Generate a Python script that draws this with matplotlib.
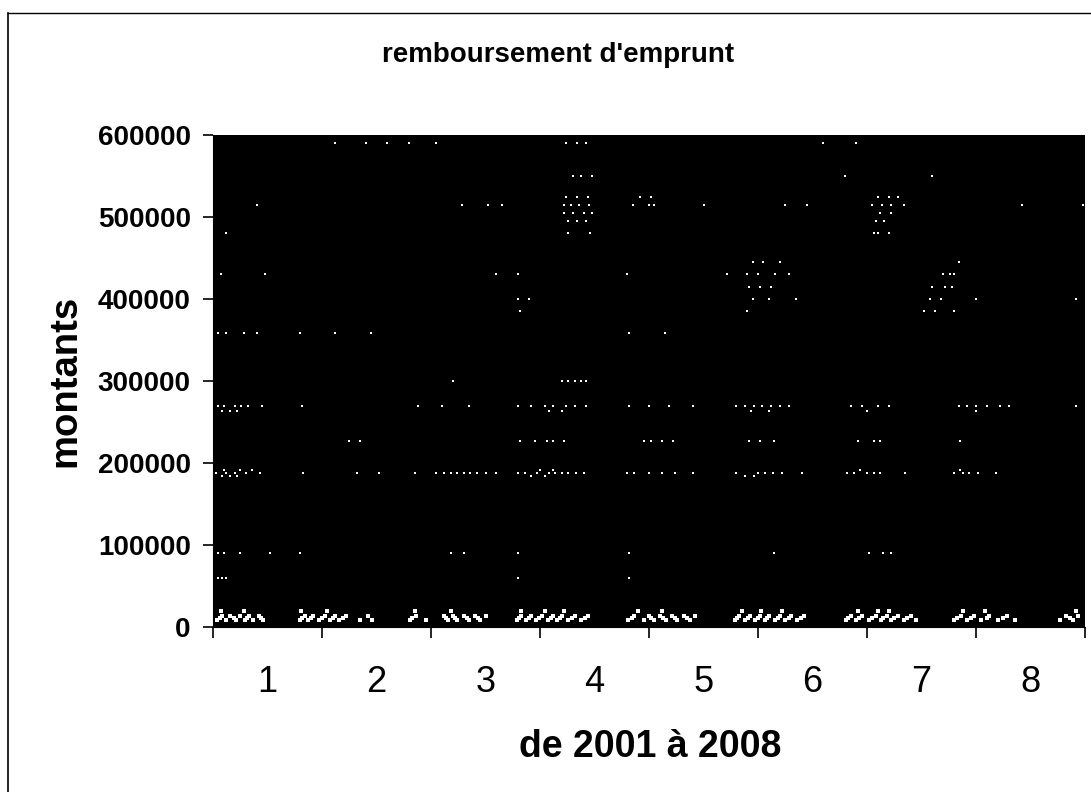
import matplotlib
matplotlib.use("Agg")
import matplotlib.pyplot as plt
from matplotlib.lines import Line2D

title = "remboursement d'emprunt"
x_title = "de 2001 à 2008"
y_title = "montants"
categories = ["1", "2", "3", "4", "5", "6", "7", "8"]
y_ticks = [0, 100000, 200000, 300000, 400000, 500000, 600000]
bar_totals = [520000, 440000, 520000, 600000, 530000, 600000, 600000, 560000]

# White scan specks: rows of (amount, x positions in category units)
low_rows = [
    (8000, [0.54, 0.62, 0.71, 0.79, 0.87, 0.96, 1.3, 1.37, 1.47, 1.57, 1.66, 1.85, 1.96, 2.31, 2.45,
            2.66, 2.74, 2.85, 2.95, 3.29, 3.37, 3.46, 3.57, 3.66, 3.76, 3.88, 4.31, 4.45, 4.55, 4.66,
            4.76, 4.88, 5.29, 5.38, 5.47, 5.56, 5.66, 5.75, 5.86, 6.31, 6.4, 6.52, 6.63, 6.72, 6.84,
            6.95, 7.3, 7.42, 7.55, 7.7, 7.86, 8.27, 8.39]),
    (14000, [0.58, 0.66, 0.75, 0.83, 0.92, 1.34, 1.42, 1.53, 1.62, 1.72, 1.92, 2.36, 2.62, 2.7, 2.8,
             2.9, 3.0, 3.33, 3.42, 3.52, 3.62, 3.7, 3.82, 3.94, 4.36, 4.5, 4.6, 4.71, 4.82, 4.92,
             5.33, 5.43, 5.52, 5.6, 5.7, 5.8, 5.92, 6.35, 6.45, 6.58, 6.68, 6.78, 6.9, 7.36, 7.48,
             7.62, 7.78, 8.33, 8.44]),
    (11000, [0.56, 0.69, 0.81, 0.94, 1.32, 1.4, 1.5, 1.6, 1.69, 2.33, 2.64, 2.72, 2.83, 2.93, 3.31,
             3.4, 3.49, 3.6, 3.68, 3.79, 3.91, 4.34, 4.52, 4.63, 4.74, 4.85, 5.31, 5.41, 5.5, 5.58,
             5.68, 5.78, 5.89, 6.33, 6.43, 6.55, 6.65, 6.75, 6.87, 7.33, 7.45, 7.6, 7.75, 8.36]),
    (19000, [0.57, 0.78, 1.31, 1.55, 2.35, 2.68, 3.33, 3.55, 3.72, 4.4, 4.62, 5.35, 5.53, 5.72,
             6.42, 6.6, 6.7, 7.38, 7.58, 8.42]),
]
band_rows = [
    (184000, [0.58, 0.66, 0.72, 3.42, 3.55, 5.38, 5.46]),
    (188000, [0.53, 0.62, 0.7, 0.8, 0.93, 1.33, 1.82, 2.02, 2.35, 2.55, 2.62, 2.68, 2.74, 2.8, 2.86,
              2.92, 3.0, 3.1, 3.3, 3.36, 3.47, 3.58, 3.64, 3.7, 3.76, 3.83, 3.9, 4.3, 4.36, 4.5,
              4.62, 4.74, 4.9, 5.3, 5.5, 5.56, 5.64, 5.72, 5.9, 6.32, 6.38, 6.5, 6.56, 6.62, 6.85,
              7.3, 7.38, 7.44, 7.52, 7.68]),
    (192000, [0.6, 0.75, 0.86, 3.5, 3.62, 6.44, 7.35]),
    (227000, [1.75, 1.85, 3.32, 3.45, 3.56, 3.62, 3.72, 4.45, 4.52, 4.62, 4.72, 5.42, 5.52, 5.65,
              6.42, 6.56, 6.62, 7.35]),
    (264000, [0.58, 0.66, 0.72, 3.58, 3.7, 5.44, 5.6, 6.5, 7.5]),
    (270000, [0.55, 0.6, 0.7, 0.76, 0.82, 0.95, 1.32, 2.38, 2.6, 2.85, 3.3, 3.42, 3.55, 3.62, 3.74,
              3.82, 3.92, 4.32, 4.5, 4.68, 4.9, 5.3, 5.38, 5.46, 5.54, 5.62, 5.7, 5.78, 6.35, 6.45,
              6.6, 6.7, 7.34, 7.42, 7.5, 7.6, 7.72, 7.8, 8.42]),
    (300000, [3.7, 3.76, 3.82, 3.88, 3.92, 2.7]),
    (358000, [0.55, 0.62, 0.78, 0.9, 1.3, 1.62, 1.95, 4.32, 4.65]),
    (90000, [0.55, 0.6, 0.75, 1.02, 1.3, 2.68, 2.8, 3.3, 4.32, 5.65, 6.52, 6.65, 6.72]),
    (60000, [0.55, 0.58, 0.62, 3.3, 4.32]),
    (385000, [7.02, 7.12, 7.3, 5.4, 3.32]),
    (400000, [3.3, 3.4, 5.45, 5.6, 5.85, 7.08, 7.18, 7.5, 8.42]),
    (415000, [5.42, 5.52, 5.62, 7.1, 7.22, 7.28]),
    (430000, [0.57, 0.98, 3.1, 3.3, 4.3, 5.22, 5.4, 5.5, 5.66, 5.78, 7.2, 7.26, 7.3]),
    (445000, [5.45, 5.55, 5.7, 7.34]),
    (480000, [0.62, 3.76, 3.96, 6.6, 6.7, 6.56]),
    (495000, [3.76, 3.84, 3.92, 6.58, 6.66]),
    (505000, [3.72, 3.8, 3.9, 3.98, 6.62, 6.72]),
    (515000, [0.9, 2.78, 3.02, 3.15, 3.72, 3.78, 3.86, 3.95, 4.35, 4.5, 4.55, 5.0, 5.75, 5.95, 6.55,
              6.64, 6.72, 6.84, 7.92, 8.48]),
    (525000, [3.74, 3.84, 3.94, 4.42, 4.52, 6.6, 6.7, 6.78]),
    (550000, [3.8, 3.88, 3.98, 6.3, 7.1]),
    (590000, [1.62, 1.9, 2.1, 2.3, 2.55, 3.74, 3.84, 3.92, 6.1, 6.4]),
]

plt.rcParams['font.family'] = ['Liberation Sans', 'DejaVu Sans']
fig = plt.figure(figsize=(10.91, 7.92), dpi=100, facecolor='white')
W, H = 1091, 792
ax = fig.add_axes([213 / W, 1 - 627 / H, (1085 - 213) / W, (627 - 135) / H], facecolor='black')

positions = list(range(1, len(categories) + 1))
ax.bar(positions, bar_totals, width=1.0, color='black', edgecolor='black')
for amount, xs in low_rows:
    ax.scatter(xs, [amount] * len(xs), s=9, marker='s', color='white', linewidths=0, zorder=3)
for amount, xs in band_rows:
    ax.scatter(xs, [amount] * len(xs), s=4, marker='s', color='white', linewidths=0, zorder=3)

ax.set_xlim(0.5, 8.5)
ax.set_ylim(0, 600000)
ax.set_yticks(y_ticks)
ax.set_yticklabels([str(v) for v in y_ticks], fontsize=20, fontweight='bold')
ax.set_xticks([p - 0.5 for p in positions] + [8.5])
ax.set_xticklabels([])
ax.set_xticks(positions, minor=True)
ax.set_xticklabels(categories, minor=True, fontsize=26)
ax.tick_params(axis='x', which='major', length=8, width=1.2, color='black')
ax.tick_params(axis='x', which='minor', length=0, pad=27)
ax.tick_params(axis='y', length=7, width=1.2, pad=9)
for side in ('top', 'right'):
    ax.spines[side].set_visible(False)

fig.text(558 / W, 1 - 55 / H, title, ha='center', va='center', fontsize=20, fontweight='bold')
fig.text(650 / W, 1 - 747 / H, x_title, ha='center', va='center', fontsize=27, fontweight='bold')
fig.text(65 / W, 1 - 381 / H, y_title, ha='center', va='center', rotation=90, fontsize=27.5, fontweight='bold')

fig.add_artist(Line2D([8 / W, 8 / W], [1 - 13 / H, 0], color='black', lw=1.2))
fig.add_artist(Line2D([8 / W, 1], [1 - 12.5 / H, 1 - 12.5 / H], color='black', lw=1.0))

fig.savefig('out.png', dpi=100)
